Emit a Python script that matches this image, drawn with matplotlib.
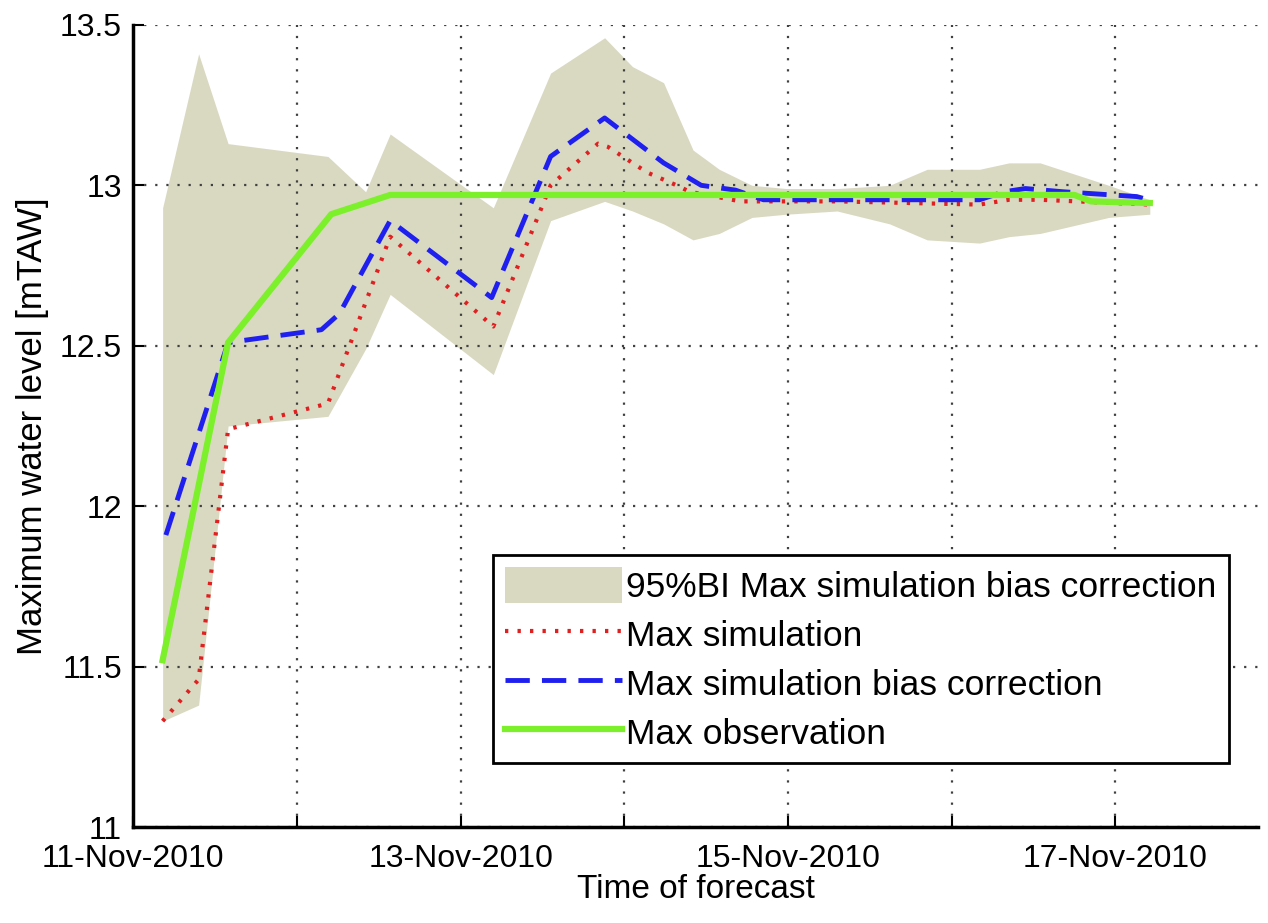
import datetime
import matplotlib
matplotlib.use('Agg')
import matplotlib.pyplot as plt

# forecast times are in days after 11-Nov-2010 00:00
start = datetime.datetime(2010, 11, 11)

# 95% bounds of the bias corrected max simulation
band_t = [0.18, 0.40, 0.58, 1.19, 1.42, 1.57, 2.20, 2.55, 2.88, 3.05, 3.24, 3.42,
          3.58, 3.78, 3.99, 4.30, 4.62, 4.85, 5.17, 5.35, 5.54, 5.96, 6.21]
band_hi = [12.93, 13.41, 13.13, 13.09, 12.98, 13.16, 12.93, 13.35, 13.46, 13.37, 13.32, 13.11,
           13.05, 13.00, 12.99, 12.99, 13.00, 13.05, 13.05, 13.07, 13.07, 13.00, 12.955]
band_lo = [11.33, 11.38, 12.25, 12.28, 12.49, 12.66, 12.41, 12.89, 12.95, 12.92, 12.88, 12.83,
           12.85, 12.90, 12.91, 12.92, 12.88, 12.83, 12.82, 12.84, 12.85, 12.90, 12.91]

# max simulation
sim_t = [0.18, 0.40, 0.58, 1.19, 1.57, 2.20, 2.55, 2.84, 2.90, 3.14, 3.32, 3.40,
         3.71, 4.30, 5.17, 5.35, 5.54, 6.21]
sim_v = [11.33, 11.46, 12.24, 12.32, 12.84, 12.56, 13.00, 13.13, 13.12, 13.04, 13.00, 12.98,
         12.95, 12.95, 12.94, 12.955, 12.955, 12.94]

# max simulation with bias correction
bc_t = [0.20, 0.58, 1.15, 1.26, 1.57, 2.19, 2.55, 2.88, 3.24, 3.47, 3.68, 3.85,
        5.17, 5.32, 5.45, 5.68, 6.13, 6.20]
bc_v = [11.91, 12.51, 12.55, 12.60, 12.89, 12.65, 13.09, 13.21, 13.07, 13.00, 12.985, 12.955,
        12.955, 12.98, 12.99, 12.98, 12.965, 12.955]

# max observation
obs_t = [0.18, 0.58, 1.21, 1.57, 5.75, 5.85, 6.21]
obs_v = [11.52, 12.51, 12.91, 12.97, 12.97, 12.95, 12.945]


def to_dates(days):
    return [start + datetime.timedelta(days=d) for d in days]


plt.rcParams['font.family'] = ['Liberation Sans', 'DejaVu Sans']

fig = plt.figure(figsize=(12.68, 9.23), dpi=100)
ax = fig.add_axes([0.105, 0.104, 0.887, 0.869])

ax.fill_between(to_dates(band_t), band_lo, band_hi, color='#d9d9c2', lw=0,
                label='95%BI Max simulation bias correction')
ax.plot(to_dates(sim_t), sim_v, color='#e02020', lw=3, ls=(0, (0.8, 2.2)),
        label='Max simulation')
ax.plot(to_dates(bc_t), bc_v, color='#1f1ff0', lw=3.5, ls=(0, (5, 2.5)),
        label='Max simulation bias correction')
ax.plot(to_dates(obs_t), obs_v, color='#7cf02a', lw=4.5, label='Max observation')

ax.set_xlim(start, start + datetime.timedelta(days=6.87))
ax.set_ylim(11, 13.5)

ticks = to_dates(range(7))
ax.set_xticks(ticks)
ax.set_xticklabels([t.strftime('%d-%b-%Y') if i % 2 == 0 else '' for i, t in enumerate(ticks)])
ax.set_yticks([11, 11.5, 12, 12.5, 13, 13.5])
ax.set_yticklabels(['11', '11.5', '12', '12.5', '13', '13.5'])

ax.tick_params(direction='in', length=8, width=1.5, labelsize=23)
ax.tick_params(axis='x', pad=12)
ax.tick_params(axis='y', pad=8)

ax.grid(True, color='0.25', ls=(0, (1, 4)), lw=1.6)
for side in ['top', 'right']:
    ax.spines[side].set_visible(False)
for side in ['left', 'bottom']:
    ax.spines[side].set_linewidth(2.5)

ax.set_xlabel('Time of forecast', fontsize=24, labelpad=0)
ax.set_ylabel('Maximum water level [mTAW]', fontsize=25, labelpad=8)

leg = ax.legend(loc='upper left', bbox_to_anchor=(0.32, 0.339), borderaxespad=0,
                fontsize=25.5, handlelength=3.3, handleheight=1.15, handletextpad=0.1,
                labelspacing=0.35, borderpad=0.35, fancybox=False, framealpha=1,
                edgecolor='black')
leg.get_frame().set_linewidth(2)

fig.savefig('out.png', dpi=100)
